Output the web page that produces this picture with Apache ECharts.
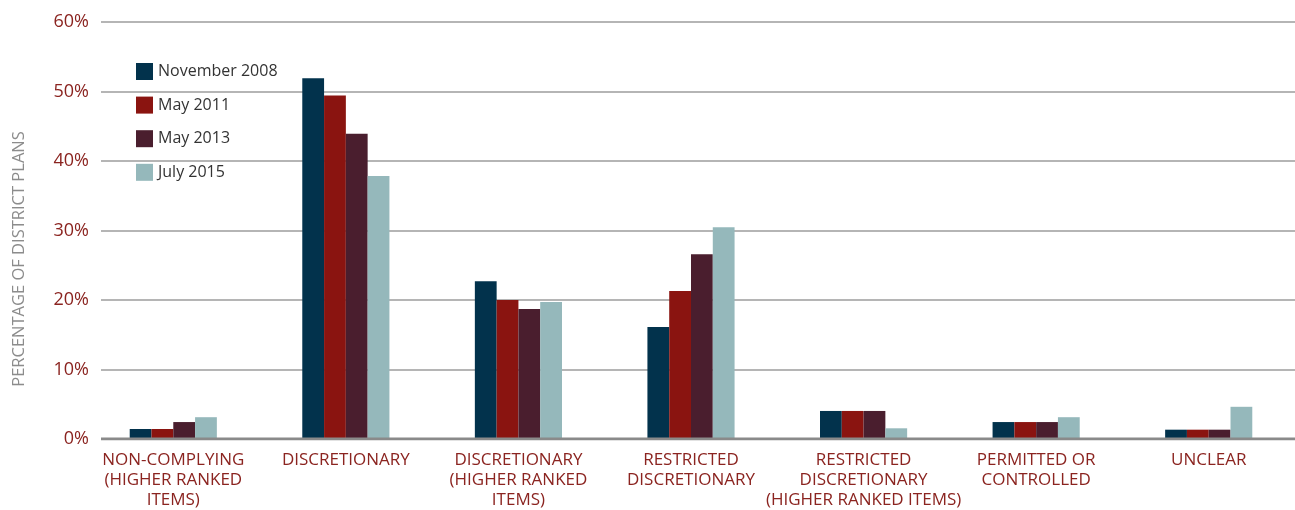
<!DOCTYPE html>
<html>
<head>
<meta charset="utf-8">
<script src="https://cdn.jsdelivr.net/npm/echarts@6/dist/echarts.min.js"></script>
<style>
  html, body { margin: 0; padding: 0; background: #fff; }
  #chart { width: 1295px; height: 510px; }
</style>
</head>
<body>
<div id="chart"></div>
<script>
// Plan types
const categories = [
  'NON-COMPLYING\n(HIGHER RANKED\nITEMS)',
  'DISCRETIONARY',
  'DISCRETIONARY\n(HIGHER RANKED\nITEMS)',
  'RESTRICTED\nDISCRETIONARY',
  'RESTRICTED\nDISCRETIONARY\n(HIGHER RANKED ITEMS)',
  'PERMITTED OR\nCONTROLLED',
  'UNCLEAR'
];

// Share of district plans (%) per survey date
const nov2008 = [1.3, 51.9, 22.6, 16.0, 3.9, 2.3, 1.2];
const may2011 = [1.3, 49.4, 19.9, 21.2, 3.9, 2.3, 1.2];
const may2013 = [2.3, 43.9, 18.6, 26.5, 3.9, 2.3, 1.2];
const jul2015 = [3.0, 37.8, 19.6, 30.4, 1.4, 3.0, 4.5];

const seriesNames = ['November 2008', 'May 2011', 'May 2013', 'July 2015'];
const seriesColors = ['#02324c', '#8a1410', '#4a1e2e', '#95b8bb'];
const seriesData = [nov2008, may2011, may2013, jul2015];

const yTicks = [0, 10, 20, 30, 40, 50, 60];

const font = '"Open Sans", "DejaVu Sans", sans-serif';
const labelRed = '#8b2420';

const chart = echarts.init(document.getElementById('chart'), null, { renderer: 'canvas' });

chart.setOption({
  animation: false,
  textStyle: { fontFamily: font },
  legend: {
    orient: 'vertical',
    left: 136,
    top: 63,
    padding: 0,
    itemWidth: 17,
    itemHeight: 17,
    itemGap: 16.6,
    icon: 'rect',
    textStyle: { color: '#333', fontSize: 16, fontFamily: font },
    data: seriesNames
  },
  graphic: [{
    type: 'text',
    x: 19,
    y: 259,
    rotation: Math.PI / 2,
    style: {
      text: 'PERCENTAGE OF DISTRICT PLANS',
      fill: '#8c8c8c',
      font: '16.5px ' + font,
      align: 'center',
      verticalAlign: 'middle'
    }
  }],
  grid: [
    // gridlines and percentage labels
    { left: 101, right: 0, top: 22, bottom: 71 },
    // bars and category labels
    { left: 87, right: 0, top: 22, bottom: 71 }
  ],
  xAxis: [
    {
      gridIndex: 0,
      type: 'value',
      min: 0, max: 1,
      axisLabel: { show: false },
      axisTick: { show: false },
      splitLine: { show: false },
      axisLine: { show: false }
    },
    {
      gridIndex: 1,
      type: 'category',
      data: categories,
      axisTick: { show: false },
      axisLine: { show: false },
      axisLabel: {
        color: labelRed,
        fontSize: 17,
        fontFamily: font,
        lineHeight: 20,
        margin: 12,
        interval: 0
      }
    }
  ],
  yAxis: [
    {
      gridIndex: 0,
      type: 'value',
      min: 0, max: 60, interval: 10,
      axisLine: { show: false },
      axisTick: { show: false },
      axisLabel: {
        color: labelRed,
        fontSize: 18,
        fontFamily: font,
        margin: 12,
        formatter: v => yTicks.includes(v) ? v + '%' : ''
      },
      splitLine: {
        lineStyle: { color: '#9c9c9c', width: 1.5 }
      }
    },
    {
      gridIndex: 1,
      type: 'value',
      min: 0, max: 60, interval: 10,
      show: false,
      splitLine: { show: false }
    }
  ],
  series: seriesNames.map((name, i) => ({
    name,
    type: 'bar',
    xAxisIndex: 1,
    yAxisIndex: 1,
    data: seriesData[i],
    itemStyle: { color: seriesColors[i] },
    barGap: '0%',
    barCategoryGap: '49.5%'
  })).concat([{
    // zero baseline drawn across the gridline span
    type: 'line',
    xAxisIndex: 0,
    yAxisIndex: 0,
    data: [[0, 0], [1, 0]],
    symbol: 'none',
    silent: true,
    z: 5,
    lineStyle: { color: '#8a8a8a', width: 3 }
  }])
});
</script>
</body>
</html>
